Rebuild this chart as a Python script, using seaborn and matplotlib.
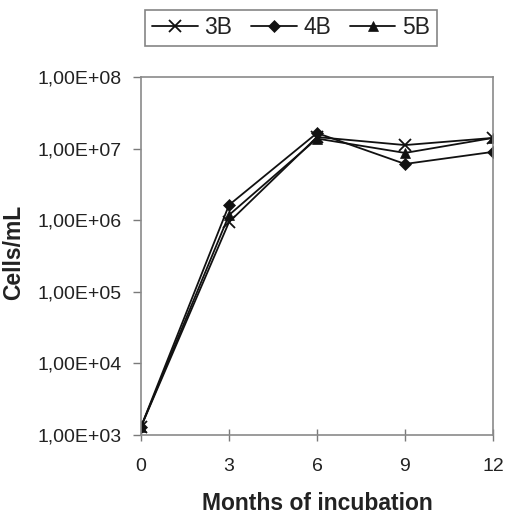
import numpy as np
import pandas as pd
import matplotlib
matplotlib.use("Agg")
import matplotlib.pyplot as plt
import matplotlib.ticker as mticker
import seaborn as sns

months = [0, 3, 6, 9, 12]
series_names = ["3B", "4B", "5B"]
cells_3b = [1.3e3, 9.4e5, 1.45e7, 1.12e7, 1.41e7]
cells_4b = [1.3e3, 1.63e6, 1.65e7, 6.1e6, 9.0e6]
cells_5b = [1.3e3, 1.18e6, 1.38e7, 8.7e6, 1.41e7]

df = pd.DataFrame({
    "month": months * 3,
    "cells": cells_3b + cells_4b + cells_5b,
    "series": [s for s in series_names for _ in months],
})

sns.set_style("white")
plt.rcParams["font.family"] = ["Liberation Sans", "DejaVu Sans"]

fig = plt.figure(figsize=(5.11, 5.25), dpi=100)
ax = fig.add_axes([141 / 511, 90 / 525, 352 / 511, 358 / 525])

markers = {"3B": "x", "4B": "D", "5B": "^"}
sizes = {"3B": 8, "4B": 6, "5B": 7.5}
for name in series_names:
    sub = df[df["series"] == name]
    sns.lineplot(data=sub, x="month", y="cells", ax=ax, color="#111111",
                 marker=markers[name], markersize=sizes[name],
                 markeredgewidth=1.3 if name == "3B" else 0.5,
                 markeredgecolor="#111111", linewidth=1.3, label=name,
                 legend=False)

ax.set_yscale("log")
ax.set_ylim(1e3, 1e8)
ax.set_xlim(0, 12)
ax.set_xticks(months)
ax.set_yticks([1e3, 1e4, 1e5, 1e6, 1e7, 1e8])
ax.yaxis.set_minor_locator(mticker.NullLocator())


def sci_comma(v, pos):
    exp = int(round(np.log10(v)))
    return "1,00E+%02d" % exp


ax.yaxis.set_major_formatter(mticker.FuncFormatter(sci_comma))
ax.tick_params(axis="both", labelsize=14, colors="#222222", direction="out",
               length=6, width=1, color="#7a7a7a", left=True, bottom=True)
ax.tick_params(axis="y", pad=8)
ax.tick_params(axis="x", direction="inout", length=9, pad=12)
for sp in ax.spines.values():
    sp.set_color("#8a8a8a")
    sp.set_linewidth(1.2)

ax.set_xlabel("Months of incubation", fontsize=16.5, fontweight="bold",
              color="#222222", labelpad=12)
ax.set_ylabel("Cells/mL", fontsize=16.5, fontweight="bold", color="#222222")
ax.yaxis.set_label_coords(-0.33, 0.51)

handles, labels = ax.get_legend_handles_labels()
leg = fig.legend(handles, labels, loc="center", bbox_to_anchor=(291 / 511, 1 - 28 / 525),
                 ncol=3, fontsize=16.5, frameon=True, fancybox=False,
                 handlelength=2.0, handletextpad=0.3, columnspacing=0.8,
                 borderpad=0.3, edgecolor="#666666")
leg.get_frame().set_linewidth(1.2)
for t in leg.get_texts():
    t.set_color("#222222")

fig.savefig("out.png", dpi=100)
